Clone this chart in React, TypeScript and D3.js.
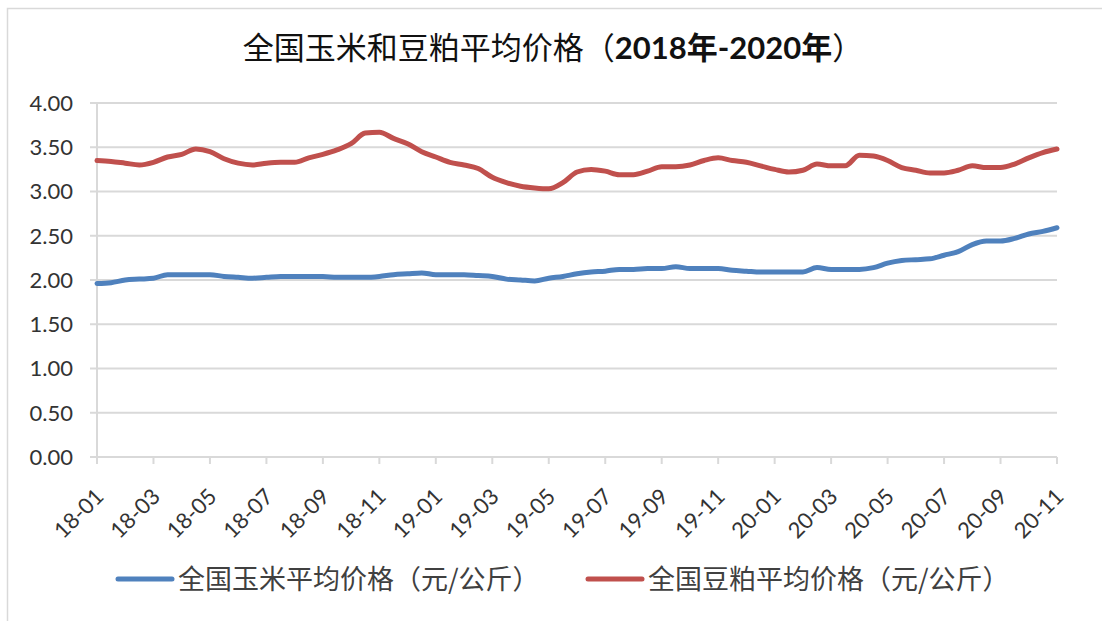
import React from "react";
import * as d3 from "d3";

const periods = [
  "18-01-1","18-01-2","18-02-1","18-02-2","18-03-1","18-03-2","18-04-1","18-04-2","18-05-1","18-05-2","18-06-1","18-06-2",
  "18-07-1","18-07-2","18-08-1","18-08-2","18-09-1","18-09-2","18-10-1","18-10-2","18-11-1","18-11-2","18-12-1","18-12-2",
  "19-01-1","19-01-2","19-02-1","19-02-2","19-03-1","19-03-2","19-04-1","19-04-2","19-05-1","19-05-2","19-06-1","19-06-2",
  "19-07-1","19-07-2","19-08-1","19-08-2","19-09-1","19-09-2","19-10-1","19-10-2","19-11-1","19-11-2","19-12-1","19-12-2",
  "20-01-1","20-01-2","20-02-1","20-02-2","20-03-1","20-03-2","20-04-1","20-04-2","20-05-1","20-05-2","20-06-1","20-06-2",
  "20-07-1","20-07-2","20-08-1","20-08-2","20-09-1","20-09-2","20-10-1","20-10-2","20-11-1",
];

const cornPrice = [
  1.96,1.97,2.00,2.01,2.02,2.06,2.06,2.06,2.06,2.04,2.03,2.02,
  2.03,2.04,2.04,2.04,2.04,2.03,2.03,2.03,2.04,2.06,2.07,2.08,
  2.06,2.06,2.06,2.05,2.04,2.01,2.00,1.99,2.02,2.04,2.07,2.09,
  2.10,2.12,2.12,2.13,2.13,2.15,2.13,2.13,2.13,2.11,2.10,2.09,
  2.09,2.09,2.09,2.14,2.12,2.12,2.12,2.14,2.19,2.22,2.23,2.24,
  2.28,2.32,2.40,2.44,2.44,2.47,2.52,2.55,2.59,
];

const mealPrice = [
  3.35,3.34,3.32,3.30,3.33,3.39,3.42,3.48,3.45,3.37,3.32,3.30,
  3.32,3.33,3.33,3.38,3.42,3.47,3.54,3.66,3.67,3.60,3.54,3.45,
  3.39,3.33,3.30,3.26,3.16,3.10,3.06,3.04,3.03,3.10,3.22,3.25,
  3.23,3.19,3.19,3.23,3.28,3.28,3.30,3.35,3.38,3.35,3.33,3.29,
  3.25,3.22,3.24,3.31,3.29,3.29,3.41,3.40,3.35,3.27,3.24,3.21,
  3.21,3.24,3.29,3.27,3.27,3.31,3.38,3.44,3.48,
];

const xTickLabels = ["18-01","18-03","18-05","18-07","18-09","18-11","19-01","19-03","19-05","19-07","19-09","19-11","20-01","20-03","20-05","20-07","20-09","20-11"];
const yTicks = [0, 0.5, 1, 1.5, 2, 2.5, 3, 3.5, 4];

const seriesNames = ["全国玉米平均价格（元/公斤）", "全国豆粕平均价格（元/公斤）"];
const seriesColors = ["#4f81bd", "#c0504d"];

const W = 1102, H = 621;
const left = 97, right = 1057, top = 103, bottom = 457;

export default function App() {
  const x = d3.scalePoint<string>().domain(periods).range([left, right]);
  const y = d3.scaleLinear().domain([0, 4]).range([bottom, top]);
  const line = d3
    .line<number>()
    .x((_, i) => x(periods[i]) as number)
    .y((d) => y(d))
    .curve(d3.curveMonotoneX);
  const series = [cornPrice, mealPrice];
  const gridColor = "#d9d9d9";
  const axisFont = "Lato, 'Noto Sans', sans-serif";
  const cjkFont = "'Noto Sans CJK SC', sans-serif";

  return (
    <svg width={W} height={H} style={{ position: "absolute", left: 0, top: 0, background: "#fff" }}>
      <rect x={7.5} y={8.5} width={W + 10} height={H + 10} fill="#fff" stroke={gridColor} strokeWidth={1.5} />
      <text x={553} y={59} textAnchor="middle" fontFamily={cjkFont} fontSize={31} fill="#111">
        全国玉米和豆粕平均价格（
        <tspan fontFamily={axisFont} fontWeight={700}>2018</tspan>
        <tspan fontWeight={700}>年</tspan>
        <tspan fontFamily={axisFont} fontWeight={700}>-2020</tspan>
        <tspan fontWeight={700}>年</tspan>）
      </text>
      {yTicks.map((t) => (
        <g key={t}>
          <line x1={left - 7} x2={right} y1={y(t)} y2={y(t)} stroke={gridColor} strokeWidth={2} />
          <text x={73} y={y(t)} dy="0.36em" textAnchor="end" fontFamily={axisFont} fontSize={22} fill="#333">
            {t.toFixed(2)}
          </text>
        </g>
      ))}
      <line x1={left} x2={left} y1={top} y2={bottom} stroke={gridColor} strokeWidth={2} />
      {xTickLabels.map((lab) => {
        const px = x(lab + "-1") as number;
        return (
          <g key={lab}>
            <line x1={px} x2={px} y1={bottom} y2={bottom + 7} stroke={gridColor} strokeWidth={2} />
            <text
              transform={`translate(${px + 8},${bottom + 41}) rotate(-45)`}
              textAnchor="end"
              fontFamily={axisFont}
              fontSize={22}
              fill="#333"
            >
              {lab}
            </text>
          </g>
        );
      })}
      {series.map((s, i) => (
        <path key={i} d={line(s) as string} fill="none" stroke={seriesColors[i]} strokeWidth={5} strokeLinejoin="round" strokeLinecap="round" />
      ))}
      {seriesNames.map((name, i) => {
        const lx = i === 0 ? 118 : 588;
        return (
          <g key={name}>
            <line x1={lx} x2={lx + 54} y1={579} y2={579} stroke={seriesColors[i]} strokeWidth={5} strokeLinecap="round" />
            <text x={lx + 60} y={579} dy="0.36em" fontFamily={cjkFont} fontSize={27} fill="#404040">
              {name}
            </text>
          </g>
        );
      })}
    </svg>
  );
}
